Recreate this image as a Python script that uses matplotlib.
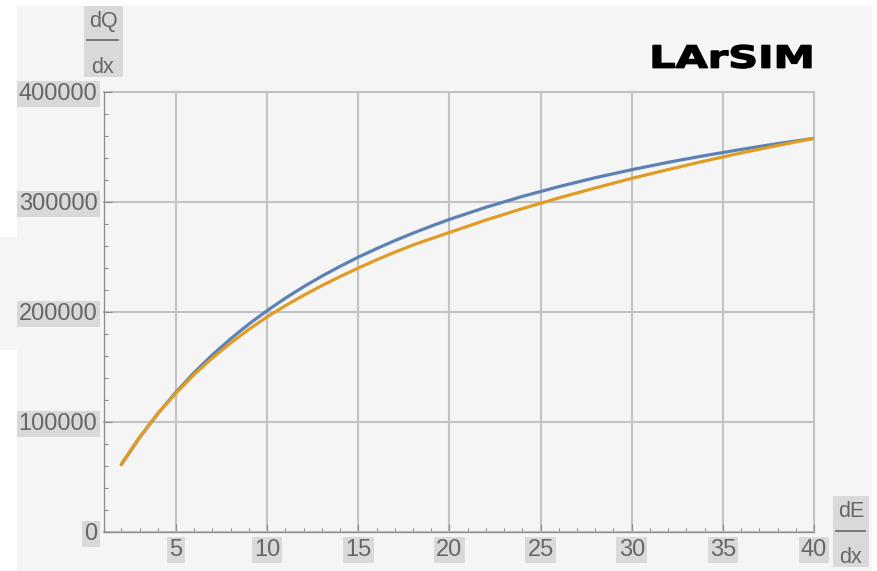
import matplotlib
matplotlib.use("Agg")
import matplotlib.pyplot as plt
from matplotlib.patches import Rectangle, PathPatch
from matplotlib.lines import Line2D
from matplotlib.textpath import TextPath
from matplotlib.font_manager import FontProperties
from matplotlib.transforms import Affine2D
from matplotlib.ticker import FixedLocator

# --- data -----------------------------------------------------------------
de_dx = [2, 3, 4, 5, 6, 7, 8, 9, 10, 11, 12, 13, 14, 15, 16, 17, 18, 19, 20,
         22, 24, 26, 28, 30, 32, 34, 36, 38, 40]
dq_birks = [61000, 85500, 107200, 126900, 144700, 160800, 175400, 188800,
            201000, 212300, 222700, 232300, 241200, 249600, 257300, 264600,
            271400, 277800, 283900, 294900, 304800, 313700, 321800, 329100,
            335800, 341900, 347500, 352800, 357600]
dq_box = [61500, 86000, 107500, 126000, 143000, 158000, 171600, 184000,
          195300, 205500, 214900, 223700, 231900, 239700, 247100, 254100,
          260600, 266400, 272000, 283300, 293700, 303400, 312500, 321200,
          329200, 337000, 344300, 351100, 357600]

x_ticks = [5, 10, 15, 20, 25, 30, 35, 40]
x_tick_labels = ["5", "10", "15", "20", "25", "30", "35", "40"]
x_minor = [2, 3, 4, 6, 7, 8, 9, 11, 12, 13, 14, 16, 17, 18, 19, 21, 22, 23,
           24, 26, 27, 28, 29, 31, 32, 33, 34, 36, 37, 38, 39]
y_ticks = [0, 100000, 200000, 300000, 400000]
y_tick_labels = ["0", "100000", "200000", "300000", "400000"]
y_minor_step = 20000

# --- styling --------------------------------------------------------------
W, H, DPI = 878, 571, 100
BG = "#f5f5f5"
LABEL_BG = "#d9d9d9"
TEXT = "#666666"
AXIS = "#8c8c8c"
GRID = "#c2c2c2"
BLUE = "#5e81b5"
ORANGE = "#e19c24"
FONT = "Liberation Sans"

plt.rcParams["font.family"] = [FONT, "DejaVu Sans"]

fig = plt.figure(figsize=(W / DPI, H / DPI), dpi=DPI, facecolor="white")


def fx(px):
    return px / W


def fy(py_top):
    return 1 - py_top / H


# background panel (plus the small strip at the left edge)
fig.add_artist(Rectangle((fx(17), 0), fx(872 - 17), fy(6), transform=fig.transFigure,
                         facecolor=BG, edgecolor="none", zorder=-2))
fig.add_artist(Rectangle((0, fy(350)), fx(17), (350 - 237) / H, transform=fig.transFigure,
                         facecolor=BG, edgecolor="none", zorder=-2))

left, right, top, bottom = 104, 814, 91.7, 531.7
ax = fig.add_axes([fx(left), fy(bottom), fx(right - left), (bottom - top) / H])
ax.set_facecolor("none")

ax.set_xlim(1.05, 40)
ax.set_ylim(0, 400000)

ax.plot(de_dx, dq_birks, color=BLUE, lw=2.3, solid_capstyle="round", zorder=3)
ax.plot(de_dx, dq_box, color=ORANGE, lw=2.3, solid_capstyle="round", zorder=4)

ax.set_xticks(x_ticks, labels=x_tick_labels)
ax.set_yticks(y_ticks, labels=y_tick_labels)
ax.xaxis.set_minor_locator(FixedLocator(x_minor))
ax.yaxis.set_minor_locator(FixedLocator(list(range(0, 400001, y_minor_step))))

ax.grid(True, which="major", color=GRID, lw=1.5, zorder=1)
for gl in ax.get_xgridlines() + ax.get_ygridlines():
    gl.set_clip_on(False)

for side in ("top", "right"):
    ax.spines[side].set_visible(False)
for side in ("left", "bottom"):
    ax.spines[side].set_color(AXIS)
    ax.spines[side].set_linewidth(0.9)
    ax.spines[side].set_zorder(2)

ax.tick_params(which="both", direction="in", color=AXIS, width=0.8,
               labelcolor=TEXT, labelsize=17)
ax.tick_params(which="major", length=5.8)
ax.tick_params(which="minor", length=2.9)
ax.tick_params(axis="x", which="major", pad=5.5)
ax.tick_params(axis="y", which="major", pad=4.7)

for lab in ax.get_xticklabels() + ax.get_yticklabels():
    lab.set_bbox(dict(facecolor=LABEL_BG, edgecolor="none", pad=1.5))


def fraction_label(cx, x0, x1, y0, y1, top_txt, top_base, rule_y, rule_x0, rule_x1, bot_base):
    fig.add_artist(Rectangle((fx(x0), fy(y1)), fx(x1 - x0), (y1 - y0) / H,
                             transform=fig.transFigure, facecolor=LABEL_BG,
                             edgecolor="none", zorder=1))
    fig.text(fx(cx), fy(top_base), top_txt, ha="center", va="baseline",
             color=TEXT, fontsize=15.5, zorder=2)
    fig.add_artist(Line2D([fx(rule_x0), fx(rule_x1)], [fy(rule_y), fy(rule_y)],
                          transform=fig.transFigure, color=TEXT, lw=1.2, zorder=2))
    fig.text(fx(cx), fy(bot_base), "dx", ha="center", va="baseline",
             color=TEXT, fontsize=15.5, zorder=2)


# axis labels drawn as stacked fractions
fraction_label(103, 84, 122.7, 6, 77, "dQ", 26.7, 40, 87, 118, 73.3)
fraction_label(851, 833, 869, 495.7, 567, "dE", 516.7, 530.7, 836, 865, 563.3)

# LArSIM wordmark, widened bold lettering
fp = FontProperties(family="DejaVu Sans", weight="bold")
tp = TextPath((0, 0), "LArSIM", size=100, prop=fp)
ext = tp.get_extents()
sx = (811 - 653) / ext.width
sy = (67.7 - 45) / (ext.y1 - 0)
tr = Affine2D().translate(-ext.x0, 0).scale(sx, sy).translate(653, H - 67.7)
fig.add_artist(PathPatch(tp, transform=tr, facecolor="black", edgecolor="black",
                         lw=1.0, zorder=5))

fig.savefig("out.png", dpi=DPI, facecolor="white")
